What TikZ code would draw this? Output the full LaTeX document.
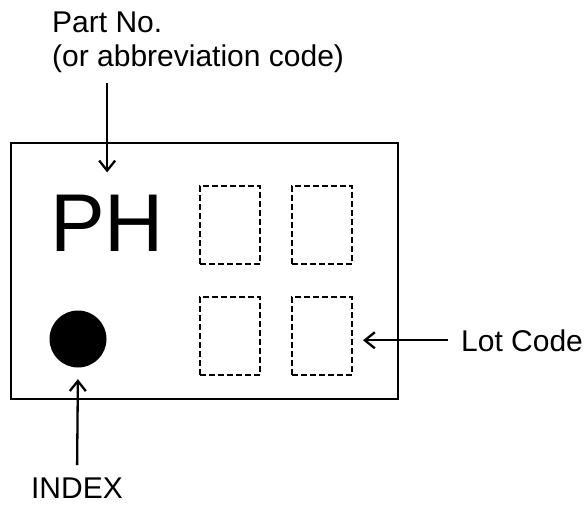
\documentclass[tikz,border=0pt]{standalone}
\usepackage{fontspec}
\setmainfont{Liberation Sans}
\usetikzlibrary{arrows.meta,positioning}

\begin{document}
\begin{tikzpicture}[x=1pt, y=-1pt, node distance=32pt]
    % Define styles
    \tikzstyle{marktext} = [inner sep=0pt, font=\fontsize{30}{34}\selectfont, align=left]
    \tikzstyle{slot} = [rectangle, draw=black, line width=1.6pt, dash pattern=on 6pt off 3pt, minimum width=60pt, minimum height=78pt, inner sep=0pt, outer sep=0pt]
    \tikzstyle{arrow} = [line width=2.3pt, ->, >={Straight Barb[length=10pt,width=16pt]}]
    
    \useasboundingbox (0,0) rectangle (586,505);
    
    % Package outline
    \node [rectangle, draw=black, line width=2.5pt, minimum width=387pt, minimum height=256pt, inner sep=0pt] (chip) at (204.5,271) {};
    
    % Marking
    \node [inner sep=0pt, anchor=base west, font=\fontsize{82}{82}\selectfont] (ph) at (50,251) {PH};
    \node [circle, fill=black, minimum size=57pt, inner sep=0pt] (dot) at (78,339) {};
    
    % Lot code slots
    \node [slot] (slot11) at (230,225) {};
    \node [slot, right=of slot11] (slot12) {};
    \node [slot, below=33pt of slot11] (slot21) {};
    \node [slot, right=of slot21] (slot22) {};
    
    % Labels
    \node [marktext, anchor=base west] (partno) at (52,67) {Part No.\\(or abbreviation code)};
    \node [marktext, anchor=base west] (lotcode) at (461,351) {Lot Code};
    \node [marktext, anchor=base] (indexlabel) at (77,498) {INDEX};
    
    % Arrows
    \draw [arrow, shorten <=10pt, shorten >=22pt] (partno.south west -| ph.north) -- (ph.north);
    \draw [arrow, shorten <=13pt, shorten >=11pt] (lotcode.west) -- (slot22.east |- lotcode.west);
    \draw [arrow, shorten <=12pt, shorten >=11.5pt] (indexlabel.north) -- (dot.south);
    
\end{tikzpicture}
\end{document}
